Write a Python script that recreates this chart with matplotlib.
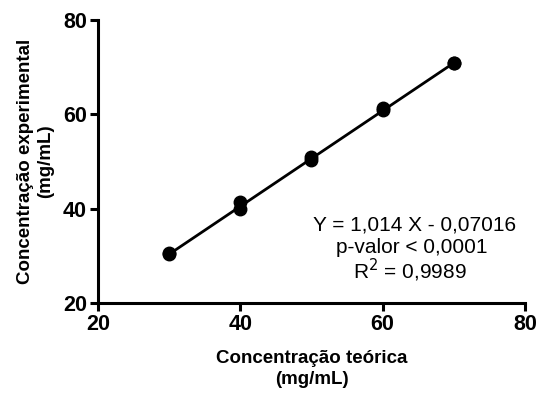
import matplotlib
matplotlib.use("Agg")
import numpy as np
import matplotlib.pyplot as plt

plt.rcParams["font.family"] = ["Liberation Sans", "DejaVu Sans"]

# Duplicate measurements for each nominal concentration
conc_teorica = [30, 30, 40, 40, 50, 50, 60, 60, 70, 70]
conc_experimental = [30.4, 30.5, 41.4, 39.9, 50.9, 50.4, 61.4, 61.0, 70.8, 70.9]

slope = 1.014
intercept = -0.07016
p_label = "p-valor < 0,0001"
r2 = 0.9989

fig = plt.figure(figsize=(5.37, 3.94), dpi=100)
ax = fig.add_axes([0.1825, 0.231, 0.795, 0.718])

xfit = np.array([min(conc_teorica), max(conc_teorica)])
ax.plot(xfit, slope * xfit + intercept, color="black", lw=2, zorder=2)
ax.plot(conc_teorica, conc_experimental, "o", color="black", ms=9, zorder=3)

ax.set_xlim(20, 80)
ax.set_ylim(20, 80)
ax.set_xticks([20, 40, 60, 80])
ax.set_yticks([20, 40, 60, 80])
for s in ["top", "right"]:
    ax.spines[s].set_visible(False)
for s in ["left", "bottom"]:
    ax.spines[s].set_linewidth(2.2)
ax.tick_params(width=2.2, length=6, labelsize=15.5, pad=2)
for lab in ax.get_xticklabels() + ax.get_yticklabels():
    lab.set_fontweight("bold")

ax.set_xlabel("Concentração teórica\n(mg/mL)", fontsize=13.5, fontweight="bold",
              labelpad=11, linespacing=1.25)
ax.set_ylabel("Concentração experimental\n(mg/mL)", fontsize=13.5, fontweight="bold",
              labelpad=6, linespacing=1.25)

eq = f"Y = {slope:.3f} X - {abs(intercept):.5f}".replace(".", ",")
ax.text(64.5, 36.6, eq, ha="center", va="center", fontsize=15)
ax.text(64.1, 31.8, p_label, ha="center", va="center", fontsize=15)
ax.text(63.8, 26.9, "R$^2$ = " + f"{r2:.4f}".replace(".", ","), ha="center", va="center", fontsize=15)

fig.savefig("out.png", dpi=100)
